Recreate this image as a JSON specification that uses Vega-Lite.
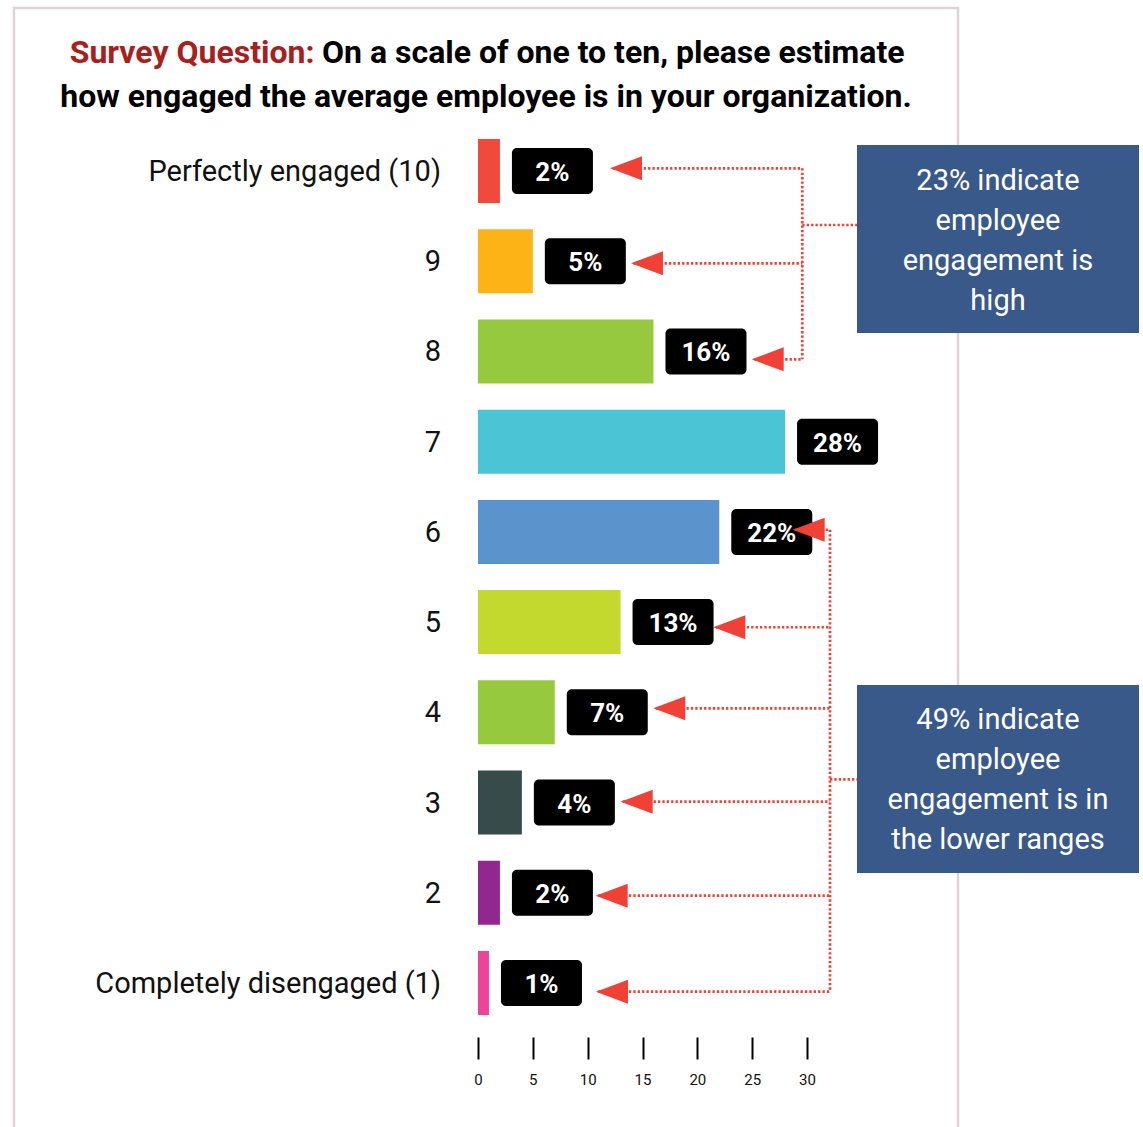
{
  "$schema": "https://vega.github.io/schema/vega-lite/v6.json",
  "width": 329,
  "height": 911,
  "autosize": "none",
  "padding": {"left": 478, "top": 126, "right": 336, "bottom": 90},
  "background": "white",
  "config": {"view": {"stroke": null}, "font": "Roboto", "scale": {"continuousPadding": 0}},
  "datasets": {
    "rows": [
      {"rating": 10, "label": "Perfectly engaged (10)", "pct": 2, "pctText": "2%"},
      {"rating": 9, "label": "9", "pct": 5, "pctText": "5%"},
      {"rating": 8, "label": "8", "pct": 16, "pctText": "16%"},
      {"rating": 7, "label": "7", "pct": 28, "pctText": "28%"},
      {"rating": 6, "label": "6", "pct": 22, "pctText": "22%"},
      {"rating": 5, "label": "5", "pct": 13, "pctText": "13%"},
      {"rating": 4, "label": "4", "pct": 7, "pctText": "7%"},
      {"rating": 3, "label": "3", "pct": 4, "pctText": "4%"},
      {"rating": 2, "label": "2", "pct": 2, "pctText": "2%"},
      {"rating": 1, "label": "Completely disengaged (1)", "pct": 1, "pctText": "1%"}
    ],
    "frame": [{"x1": -42.31, "x2": 43.77, "y1": 11.8067, "y2": -0.7}],
    "callouts": [
      {"x1": 34.559, "x2": 60.274, "y1": 10.2882, "y2": 8.2045, "tx": 47.416, "ty": 9.7894, "text": "23% indicate\nemployee\nengagement is\nhigh"},
      {"x1": 34.559, "x2": 60.274, "y1": 4.303, "y2": 2.2192, "tx": 47.416, "ty": 3.812, "text": "49% indicate\nemployee\nengagement is in\nthe lower ranges"}
    ],
    "heads": [
      {"rating": 10, "tip": 12.036, "y": 10.03},
      {"rating": 9, "tip": 13.951, "y": 8.977},
      {"rating": 8, "tip": 24.957, "y": 7.913},
      {"rating": 6, "tip": 28.696, "y": 6.024},
      {"rating": 5, "tip": 21.456, "y": 4.943},
      {"rating": 4, "tip": 15.985, "y": 4.045},
      {"rating": 3, "tip": 13.012, "y": 3.01},
      {"rating": 2, "tip": 10.733, "y": 1.968},
      {"rating": 1, "tip": 10.76, "y": 0.904}
    ],
    "links": [
      {"x1": 12.3, "x2": 29.571, "y1": 10.03, "y2": 10.03},
      {"x1": 14.2, "x2": 29.571, "y1": 8.977, "y2": 8.977},
      {"x1": 25.2, "x2": 29.571, "y1": 7.913, "y2": 7.913},
      {"x1": 29.571, "x2": 29.571, "y1": 10.03, "y2": 7.913},
      {"x1": 29.571, "x2": 34.559, "y1": 9.4015, "y2": 9.4015},
      {"x1": 28.9, "x2": 32.097, "y1": 6.024, "y2": 6.024},
      {"x1": 21.7, "x2": 32.097, "y1": 4.943, "y2": 4.943},
      {"x1": 16.2, "x2": 32.097, "y1": 4.045, "y2": 4.045},
      {"x1": 13.2, "x2": 32.097, "y1": 3.01, "y2": 3.01},
      {"x1": 10.95, "x2": 32.097, "y1": 1.968, "y2": 1.968},
      {"x1": 10.95, "x2": 32.097, "y1": 0.904, "y2": 0.904},
      {"x1": 32.097, "x2": 32.097, "y1": 6.024, "y2": 0.904},
      {"x1": 32.097, "x2": 34.559, "y1": 3.258, "y2": 3.258}
    ],
    "titles": [
      {"part": "red", "text": "Survey Question:", "x": -14.909, "y": 11.197},
      {"part": "line1", "text": "On a scale of one to ten, please estimate", "x": -14.225, "y": 11.197},
      {"part": "line2", "text": "how engaged the average employee is in your organization.", "x": 0.729, "y": 10.704}
    ]
  },
  "layer": [
    {
      "data": {"name": "rows"},
      "mark": {"type": "bar", "orient": "horizontal", "size": 64},
      "encoding": {
        "x": {"field": "pct", "type": "quantitative", "scale": {"domain": [0, 30], "nice": false, "zero": false},
          "axis": {"values": [0, 5, 10, 15, 20, 25, 30], "domain": false, "grid": false, "ticks": true, "tickColor": "#000", "tickWidth": 2, "tickSize": 22, "labelFontSize": 15, "labelColor": "#111", "labelPadding": 13, "labelFlush": false, "labelFont": "Roboto", "title": null, "orient": "bottom"}},
        "y": {"field": "rating", "type": "quantitative", "scale": {"domain": [0.4015, 10.4988], "nice": false, "zero": false, "padding": 0}, "axis": null},
        "color": {"field": "rating", "type": "nominal", "legend": null,
          "scale": {"domain": [10, 9, 8, 7, 6, 5, 4, 3, 2, 1], "range": ["#f04a3c", "#fdb316", "#97c93e", "#4bc4d6", "#5b94cc", "#c3d92d", "#97c93e", "#364b4a", "#92278f", "#ec4497"]}}
      }
    },
    {
      "data": {"name": "frame"},
      "mark": {"type": "rect", "fill": null, "fillOpacity": 0, "stroke": "#ddd5d5", "strokeWidth": 2.5},
      "encoding": {
        "x": {"field": "x1", "type": "quantitative", "scale": {"domain": [0, 30], "nice": false, "zero": false},
          "axis": {"values": [0, 5, 10, 15, 20, 25, 30], "domain": false, "grid": false, "ticks": true, "tickColor": "#000", "tickWidth": 2, "tickSize": 22, "labelFontSize": 15, "labelColor": "#111", "labelPadding": 13, "labelFlush": false, "labelFont": "Roboto", "title": null, "orient": "bottom"}},
        "x2": {"field": "x2"},
        "y": {"field": "y1", "type": "quantitative", "scale": {"domain": [0.4015, 10.4988], "nice": false, "zero": false, "padding": 0}, "axis": null},
        "y2": {"field": "y2"}
      }
    },
    {
      "data": {"name": "rows"},
      "mark": {"type": "rect", "color": "#000", "cornerRadius": 5, "xOffset": 12, "x2Offset": 93, "yOffset": -23, "y2Offset": 23},
      "encoding": {
        "x": {"field": "pct", "type": "quantitative", "scale": {"domain": [0, 30], "nice": false, "zero": false},
          "axis": {"values": [0, 5, 10, 15, 20, 25, 30], "domain": false, "grid": false, "ticks": true, "tickColor": "#000", "tickWidth": 2, "tickSize": 22, "labelFontSize": 15, "labelColor": "#111", "labelPadding": 13, "labelFlush": false, "labelFont": "Roboto", "title": null, "orient": "bottom"}},
        "x2": {"field": "pct"},
        "y": {"field": "rating", "type": "quantitative", "scale": {"domain": [0.4015, 10.4988], "nice": false, "zero": false, "padding": 0}, "axis": null},
        "y2": {"field": "rating"}
      }
    },
    {
      "data": {"name": "rows"},
      "mark": {"type": "text", "color": "white", "fontWeight": "bold", "fontSize": 26, "dx": 52.5, "dy": 2, "baseline": "middle", "align": "center", "font": "Roboto"},
      "encoding": {
        "x": {"field": "pct", "type": "quantitative", "scale": {"domain": [0, 30], "nice": false, "zero": false},
          "axis": {"values": [0, 5, 10, 15, 20, 25, 30], "domain": false, "grid": false, "ticks": true, "tickColor": "#000", "tickWidth": 2, "tickSize": 22, "labelFontSize": 15, "labelColor": "#111", "labelPadding": 13, "labelFlush": false, "labelFont": "Roboto", "title": null, "orient": "bottom"}},
        "y": {"field": "rating", "type": "quantitative", "scale": {"domain": [0.4015, 10.4988], "nice": false, "zero": false, "padding": 0}, "axis": null},
        "text": {"field": "pctText"}
      }
    },
    {
      "data": {"name": "rows"},
      "mark": {"type": "text", "color": "#111", "fontSize": 29, "dx": -37, "dy": 1, "baseline": "middle", "align": "right", "font": "Roboto"},
      "encoding": {
        "x": {"datum": 0, "type": "quantitative", "scale": {"domain": [0, 30], "nice": false, "zero": false},
          "axis": {"values": [0, 5, 10, 15, 20, 25, 30], "domain": false, "grid": false, "ticks": true, "tickColor": "#000", "tickWidth": 2, "tickSize": 22, "labelFontSize": 15, "labelColor": "#111", "labelPadding": 13, "labelFlush": false, "labelFont": "Roboto", "title": null, "orient": "bottom"}},
        "y": {"field": "rating", "type": "quantitative", "scale": {"domain": [0.4015, 10.4988], "nice": false, "zero": false, "padding": 0}, "axis": null},
        "text": {"field": "label"}
      }
    },
    {
      "data": {"name": "titles"},
      "transform": [{"filter": "datum.part == 'red'"}],
      "mark": {"type": "text", "color": "#a6211c", "fontSize": 32, "fontWeight": "bold", "align": "right", "baseline": "alphabetic", "font": "Roboto"},
      "encoding": {
        "x": {"field": "x", "type": "quantitative", "scale": {"domain": [0, 30], "nice": false, "zero": false},
          "axis": {"values": [0, 5, 10, 15, 20, 25, 30], "domain": false, "grid": false, "ticks": true, "tickColor": "#000", "tickWidth": 2, "tickSize": 22, "labelFontSize": 15, "labelColor": "#111", "labelPadding": 13, "labelFlush": false, "labelFont": "Roboto", "title": null, "orient": "bottom"}},
        "y": {"field": "y", "type": "quantitative", "scale": {"domain": [0.4015, 10.4988], "nice": false, "zero": false, "padding": 0}, "axis": null},
        "text": {"field": "text"}
      }
    },
    {
      "data": {"name": "titles"},
      "transform": [{"filter": "datum.part == 'line1'"}],
      "mark": {"type": "text", "color": "#000", "fontSize": 32, "fontWeight": "bold", "align": "left", "baseline": "alphabetic", "font": "Roboto"},
      "encoding": {
        "x": {"field": "x", "type": "quantitative", "scale": {"domain": [0, 30], "nice": false, "zero": false},
          "axis": {"values": [0, 5, 10, 15, 20, 25, 30], "domain": false, "grid": false, "ticks": true, "tickColor": "#000", "tickWidth": 2, "tickSize": 22, "labelFontSize": 15, "labelColor": "#111", "labelPadding": 13, "labelFlush": false, "labelFont": "Roboto", "title": null, "orient": "bottom"}},
        "y": {"field": "y", "type": "quantitative", "scale": {"domain": [0.4015, 10.4988], "nice": false, "zero": false, "padding": 0}, "axis": null},
        "text": {"field": "text"}
      }
    },
    {
      "data": {"name": "titles"},
      "transform": [{"filter": "datum.part == 'line2'"}],
      "mark": {"type": "text", "color": "#000", "fontSize": 32, "fontWeight": "bold", "align": "center", "baseline": "alphabetic", "font": "Roboto"},
      "encoding": {
        "x": {"field": "x", "type": "quantitative", "scale": {"domain": [0, 30], "nice": false, "zero": false},
          "axis": {"values": [0, 5, 10, 15, 20, 25, 30], "domain": false, "grid": false, "ticks": true, "tickColor": "#000", "tickWidth": 2, "tickSize": 22, "labelFontSize": 15, "labelColor": "#111", "labelPadding": 13, "labelFlush": false, "labelFont": "Roboto", "title": null, "orient": "bottom"}},
        "y": {"field": "y", "type": "quantitative", "scale": {"domain": [0.4015, 10.4988], "nice": false, "zero": false, "padding": 0}, "axis": null},
        "text": {"field": "text"}
      }
    },
    {
      "data": {"name": "links"},
      "mark": {"type": "rule", "color": "#ef4136", "strokeWidth": 2.7, "strokeDash": [2.3, 2.1]},
      "encoding": {
        "x": {"field": "x1", "type": "quantitative", "scale": {"domain": [0, 30], "nice": false, "zero": false},
          "axis": {"values": [0, 5, 10, 15, 20, 25, 30], "domain": false, "grid": false, "ticks": true, "tickColor": "#000", "tickWidth": 2, "tickSize": 22, "labelFontSize": 15, "labelColor": "#111", "labelPadding": 13, "labelFlush": false, "labelFont": "Roboto", "title": null, "orient": "bottom"}},
        "x2": {"field": "x2"},
        "y": {"field": "y1", "type": "quantitative", "scale": {"domain": [0.4015, 10.4988], "nice": false, "zero": false, "padding": 0}, "axis": null},
        "y2": {"field": "y2"}
      }
    },
    {
      "data": {"name": "heads"},
      "mark": {"type": "point", "shape": "M 0 0 L 2 -0.75 L 2 0.75 Z", "size": 1024, "filled": true, "color": "#ef4136", "opacity": 1, "strokeWidth": 0},
      "encoding": {
        "x": {"field": "tip", "type": "quantitative", "scale": {"domain": [0, 30], "nice": false, "zero": false},
          "axis": {"values": [0, 5, 10, 15, 20, 25, 30], "domain": false, "grid": false, "ticks": true, "tickColor": "#000", "tickWidth": 2, "tickSize": 22, "labelFontSize": 15, "labelColor": "#111", "labelPadding": 13, "labelFlush": false, "labelFont": "Roboto", "title": null, "orient": "bottom"}},
        "y": {"field": "y", "type": "quantitative", "scale": {"domain": [0.4015, 10.4988], "nice": false, "zero": false, "padding": 0}, "axis": null}
      }
    },
    {
      "data": {"name": "callouts"},
      "mark": {"type": "rect", "color": "#38598a"},
      "encoding": {
        "x": {"field": "x1", "type": "quantitative", "scale": {"domain": [0, 30], "nice": false, "zero": false},
          "axis": {"values": [0, 5, 10, 15, 20, 25, 30], "domain": false, "grid": false, "ticks": true, "tickColor": "#000", "tickWidth": 2, "tickSize": 22, "labelFontSize": 15, "labelColor": "#111", "labelPadding": 13, "labelFlush": false, "labelFont": "Roboto", "title": null, "orient": "bottom"}},
        "x2": {"field": "x2"},
        "y": {"field": "y1", "type": "quantitative", "scale": {"domain": [0.4015, 10.4988], "nice": false, "zero": false, "padding": 0}, "axis": null},
        "y2": {"field": "y2"}
      }
    },
    {
      "data": {"name": "callouts"},
      "mark": {"type": "text", "color": "white", "fontSize": 29, "lineHeight": 40, "lineBreak": "\n", "align": "center", "baseline": "alphabetic", "font": "Roboto"},
      "encoding": {
        "x": {"field": "tx", "type": "quantitative", "scale": {"domain": [0, 30], "nice": false, "zero": false},
          "axis": {"values": [0, 5, 10, 15, 20, 25, 30], "domain": false, "grid": false, "ticks": true, "tickColor": "#000", "tickWidth": 2, "tickSize": 22, "labelFontSize": 15, "labelColor": "#111", "labelPadding": 13, "labelFlush": false, "labelFont": "Roboto", "title": null, "orient": "bottom"}},
        "y": {"field": "ty", "type": "quantitative", "scale": {"domain": [0.4015, 10.4988], "nice": false, "zero": false, "padding": 0}, "axis": null},
        "text": {"field": "text"}
      }
    }
  ]
}
